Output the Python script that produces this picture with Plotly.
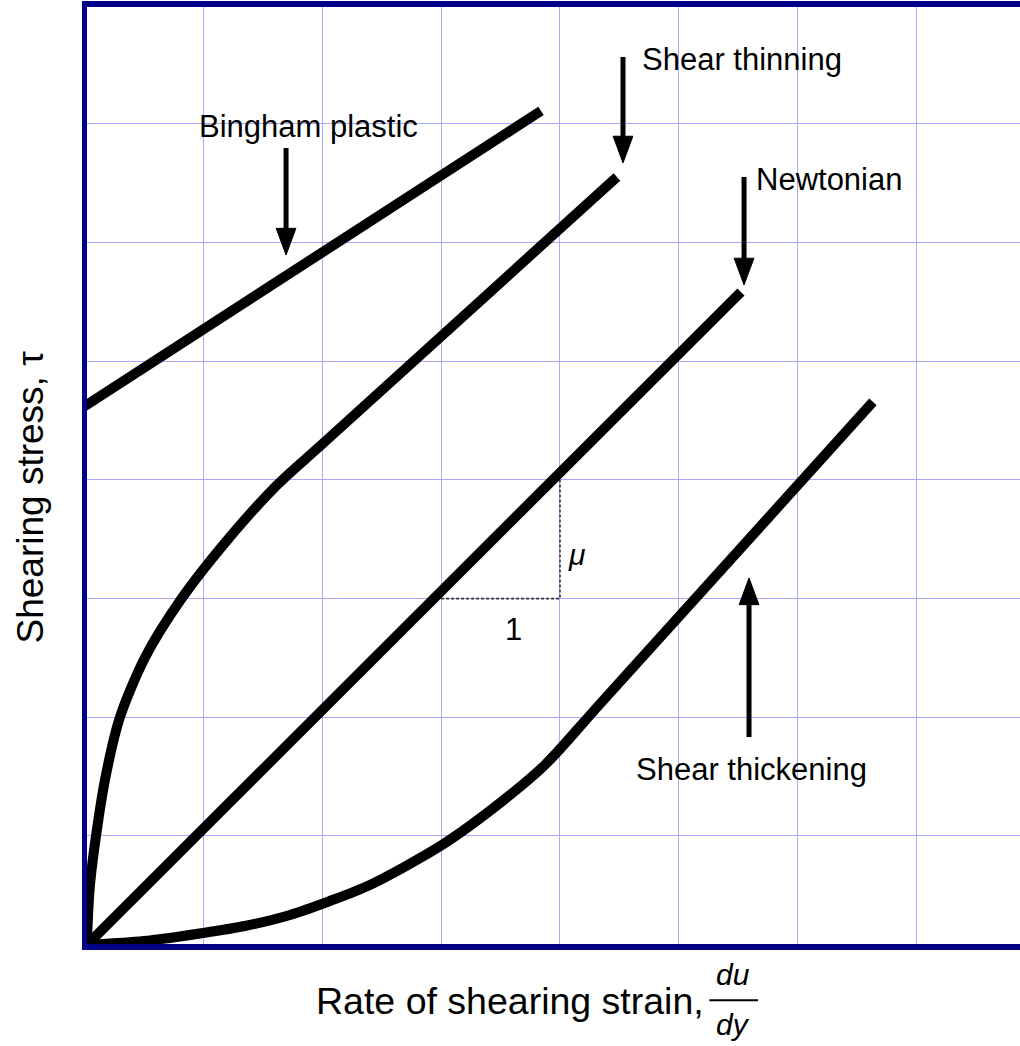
import plotly.graph_objects as go

# ---- data (chart units: one grid cell = 1) ----
bingham_x = [0.0, 3.84]
bingham_y = [4.56, 7.05]

thinning_x = [0.02, 0.045, 0.097, 0.177, 0.298, 0.510, 0.818, 1.185, 1.616, 2.007, 4.479]
thinning_y = [0.02, 0.506, 0.935, 1.433, 1.938, 2.444, 2.941, 3.413, 3.893, 4.248, 6.493]

newton_x = [0.02, 5.522]
newton_y = [0.02, 5.524]

thick_x = [0.02, 0.13, 0.552, 0.997, 1.350, 1.729, 2.065, 2.401, 3.007, 3.495, 3.873, 4.336, 6.632]
thick_y = [0.02, 0.028, 0.060, 0.122, 0.181, 0.274, 0.392, 0.527, 0.864, 1.218, 1.538, 2.052, 4.597]

slope_tri_x = [3.0, 4.0, 4.0]
slope_tri_y = [2.94, 2.94, 3.94]

label_text = ["Bingham plastic", "Shear thinning", "Newtonian", "Shear thickening"]
label_x = [1.881, 5.527, 6.262, 5.611]
label_y = [6.914, 7.479, 6.472, 1.504]

arrow_x = [1.696, 4.530, 5.548, 5.590]
arrow_tail_y = [6.737, 7.504, 6.493, 1.774]
arrow_tip_y = [5.835, 6.611, 5.583, 3.114]

grid_x = [1, 2, 3, 4, 5, 6, 7]
grid_y = [0.94, 1.94, 2.94, 3.94, 4.94, 5.94, 6.94]

X_RANGE = [0.0219, 7.869]
Y_RANGE = [0.0295, 7.925]

FONT = "Liberation Sans, Arial, sans-serif"
NAVY = "#000088"
GRID = "#a8a8ff"
CURVE_W = 10

fig = go.Figure()

common = dict(mode="lines", line=dict(color="black", width=CURVE_W), hoverinfo="skip",
              cliponaxis=False, showlegend=False)
fig.add_trace(go.Scatter(x=bingham_x, y=bingham_y, **common))
fig.add_trace(go.Scatter(x=thinning_x, y=thinning_y, mode="lines",
                         line=dict(color="black", width=CURVE_W, shape="spline", smoothing=0.8),
                         hoverinfo="skip", cliponaxis=False, showlegend=False))
fig.add_trace(go.Scatter(x=newton_x, y=newton_y, **common))
fig.add_trace(go.Scatter(x=thick_x, y=thick_y, mode="lines",
                         line=dict(color="black", width=CURVE_W, shape="spline", smoothing=0.8),
                         hoverinfo="skip", cliponaxis=False, showlegend=False))
# slope triangle (dashed)
fig.add_trace(go.Scatter(x=slope_tri_x, y=slope_tri_y, mode="lines",
                         line=dict(color="#333333", width=1.6, dash="3px,2px"),
                         hoverinfo="skip", showlegend=False))

# arrows
HEAD_LEN = 0.225
HEAD_HALF = 0.083
shapes = []
for ax_, ty, py in zip(arrow_x, arrow_tail_y, arrow_tip_y):
    d = 1 if py > ty else -1
    base = py - d * HEAD_LEN
    shapes.append(dict(type="line", xref="x", yref="y", x0=ax_, x1=ax_, y0=ty, y1=base + d * 0.02,
                       line=dict(color="black", width=5), layer="above"))
    shapes.append(dict(type="path", xref="x", yref="y",
                       path=f"M {ax_ - HEAD_HALF},{base} L {ax_ + HEAD_HALF},{base} L {ax_},{py} Z",
                       fillcolor="black", line=dict(color="black", width=1), layer="above"))

# fraction bar for du/dy (paper coords)
shapes.append(dict(type="line", xref="paper", yref="paper", x0=0.667, x1=0.7192,
                   y0=-0.0600, y1=-0.0600, line=dict(color="black", width=2), layer="above"))

annotations = []
for t, x, y in zip(label_text, label_x, label_y):
    annotations.append(dict(x=x, y=y, xref="x", yref="y", text=t, showarrow=False,
                            xanchor="center", yanchor="middle",
                            font=dict(family=FONT, size=31, color="black")))
annotations.append(dict(x=4.140, y=3.308, xref="x", yref="y", text="<i>μ</i>", showarrow=False,
                        xanchor="center", yanchor="middle",
                        font=dict(family=FONT, size=30, color="black")))
annotations.append(dict(x=3.607, y=2.676, xref="x", yref="y", text="1", showarrow=False,
                        xanchor="center", yanchor="middle",
                        font=dict(family=FONT, size=31, color="black")))
# axis titles
annotations.append(dict(x=-0.0611, y=0.4776, xref="paper", yref="paper", text="Shearing stress, τ",
                        showarrow=False, textangle=-90, xanchor="center", yanchor="middle",
                        font=dict(family=FONT, size=37, color="black")))
annotations.append(dict(x=0.6635, y=-0.0608, xref="paper", yref="paper",
                        text="Rate of shearing strain,", showarrow=False,
                        xanchor="right", yanchor="middle",
                        font=dict(family=FONT, size=37.5, color="black")))
annotations.append(dict(x=0.6924, y=-0.0330, xref="paper", yref="paper", text="<i>du</i>",
                        showarrow=False, xanchor="center", yanchor="middle",
                        font=dict(family=FONT, size=30, color="black")))
annotations.append(dict(x=0.6924, y=-0.0855, xref="paper", yref="paper", text="<i>dy</i>",
                        showarrow=False, xanchor="center", yanchor="middle",
                        font=dict(family=FONT, size=30, color="black")))

fig.update_layout(
    width=1020, height=1046,
    margin=dict(l=87, r=0, t=7, b=102),
    paper_bgcolor="white", plot_bgcolor="white",
    showlegend=False,
    shapes=shapes, annotations=annotations,
    xaxis=dict(range=X_RANGE, showline=True, linecolor=NAVY, linewidth=6, mirror=True,
               layer="below traces", tickmode="array", tickvals=grid_x, showticklabels=False,
               ticks="", showgrid=True, gridcolor=GRID, gridwidth=1.3, zeroline=False, fixedrange=True),
    yaxis=dict(range=Y_RANGE, showline=True, linecolor=NAVY, linewidth=5, mirror=False,
               layer="below traces", tickmode="array", tickvals=grid_y, showticklabels=False,
               ticks="", showgrid=True, gridcolor=GRID, gridwidth=1.3, zeroline=False, fixedrange=True),
)

fig.write_html("out.html", config={"displayModeBar": False},
               post_script="document.body.style.margin='0';document.body.style.overflow='hidden';")
